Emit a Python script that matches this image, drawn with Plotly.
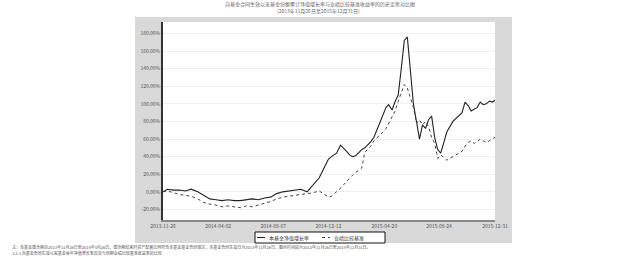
import plotly.graph_objects as go

dates = [
    "2013-11-26", "2013-12-06", "2013-12-20", "2014-01-03", "2014-01-17", "2014-01-30",
    "2014-02-14", "2014-02-28", "2014-03-14", "2014-03-28", "2014-04-11", "2014-04-25",
    "2014-05-09", "2014-05-23", "2014-06-06", "2014-06-20", "2014-07-04", "2014-07-18",
    "2014-08-01", "2014-08-15", "2014-08-29", "2014-09-12", "2014-09-26", "2014-10-10",
    "2014-10-24", "2014-11-07", "2014-11-21", "2014-12-05", "2014-12-12", "2014-12-19",
    "2014-12-31", "2015-01-09", "2015-01-16", "2015-01-23", "2015-01-30", "2015-02-06",
    "2015-02-13", "2015-02-27", "2015-03-06", "2015-03-13", "2015-03-20", "2015-03-27",
    "2015-04-03", "2015-04-10", "2015-04-17", "2015-04-24", "2015-04-30", "2015-05-08",
    "2015-05-15", "2015-05-22", "2015-05-29", "2015-06-05", "2015-06-12", "2015-06-19",
    "2015-06-26", "2015-07-03", "2015-07-10", "2015-07-17", "2015-07-24", "2015-07-31",
    "2015-08-07", "2015-08-14", "2015-08-21", "2015-08-28", "2015-09-11", "2015-09-25",
    "2015-10-16", "2015-10-23", "2015-10-30", "2015-11-06", "2015-11-13", "2015-11-20",
    "2015-11-27", "2015-12-04", "2015-12-11", "2015-12-18", "2015-12-25", "2015-12-31",
]

fund = [
    0, 3, 2, 2, 1, 3, 0, -4, -8, -9, -10, -9,
    -10, -10, -9, -8, -9, -7, -6, -2, 0, 1, 2, 3,
    0, 8, 16, 30, 37, 40, 44, 53, 50, 46, 42, 40,
    41, 48, 50, 53, 57, 62, 70, 80, 88, 96, 99, 93,
    103, 110, 140, 172, 176, 140, 100, 80, 60, 76, 72, 82,
    86, 62, 48, 44, 68, 80, 90, 102, 98, 92, 94, 96,
    102, 99, 100, 103, 102, 104,
]

bench = [
    0, 1, -1, -3, -4, -5, -8, -12, -14, -15, -17, -16,
    -17, -18, -16, -17, -15, -13, -11, -8, -6, -5, -4, -3,
    -2, -1, 1, -4, -6, -5, 0, 4, 8, 12, 16, 19,
    22, 27, 45, 48, 52, 58, 61, 65, 68, 72, 78, 86,
    92, 103, 112, 122, 118, 108, 96, 78, 82, 76, 80, 74,
    62, 55, 38, 42, 36, 40, 46, 52, 56, 58, 55, 57,
    60, 58, 56, 58, 60, 62,
]

series_names = ["本基金净值增长率", "业绩比较基准"]

y_ticks = [-20, 0, 20, 40, 60, 80, 100, 120, 140, 160, 180]
y_tick_text = ["-20.00%", "0.00%", "20.00%", "40.00%", "60.00%", "80.00%",
               "100.00%", "120.00%", "140.00%", "160.00%", "180.00%"]

x_ticks = ["2013-11-26", "2014-04-02", "2014-08-07", "2014-12-12",
           "2015-04-20", "2015-08-24", "2015-12-31"]

title_line1 = "自基金合同生效以来基金份额累计净值增长率与业绩比较基准收益率的历史走势对比图"
title_line2 = "(2013年11月26日至2015年12月31日)"
note_line1 = ("注：本基金建仓期自2013年11月26日至2014年5月26日，建仓期结束时资产配置比例符合本基金基金合同规定。"
              "本基金合同生效日为2013年11月26日，图示时间段为2013年11月26日至2015年12月31日。")
note_line2 = "3.2.3 自基金合同生效以来基金每年净值增长率及其与同期业绩比较基准收益率的比较"

FONT = "Noto Sans CJK SC"
line_styles = [dict(color="#222222", width=1.1), dict(color="#444444", width=1, dash="dot")]

fig = go.Figure()
fig.add_trace(go.Scatter(x=dates, y=fund, mode="lines", name=series_names[0],
                         line=line_styles[0], showlegend=False))
fig.add_trace(go.Scatter(x=dates, y=bench, mode="lines", name=series_names[1],
                         line=line_styles[1], showlegend=False))

W, H = 634, 257
L, R, T, B = 163, 495, 22, 220
pw, ph = R - L, B - T

def px(x):
    return (x - L) / pw

def py(y):
    return (B - y) / ph

# gray frame and white plot area
fig.add_shape(type="rect", xref="paper", yref="paper",
              x0=px(135), x1=px(512), y0=py(243), y1=py(17),
              fillcolor="#d9d9d9", line=dict(width=0), layer="below")
fig.add_shape(type="rect", xref="paper", yref="paper",
              x0=0, x1=1, y0=0, y1=1,
              fillcolor="white", line=dict(width=0), layer="below")

# legend box
fig.add_shape(type="rect", xref="paper", yref="paper",
              x0=px(255), x1=px(385), y0=py(243), y1=py(232),
              fillcolor="white", line=dict(color="#111111", width=1))
legend_items = [(257, 265, 267), (322, 330, 332)]
for (lx0, lx1, tx), name, st in zip(legend_items, series_names, line_styles):
    fig.add_shape(type="line", xref="paper", yref="paper",
                  x0=px(lx0), x1=px(lx1), y0=py(237.5), y1=py(237.5),
                  line=st)
    fig.add_annotation(text=name, xref="paper", yref="paper", x=px(tx), y=py(237.5),
                       showarrow=False, font=dict(size=5, color="#333333"),
                       xanchor="left", yanchor="middle")

fig.update_layout(
    width=W, height=H,
    margin=dict(l=L, r=W - R, t=T, b=H - B, autoexpand=False),
    paper_bgcolor="white", plot_bgcolor="white",
    font=dict(family=FONT, size=5, color="#444444"),
    showlegend=False,
    xaxis=dict(type="date", range=["2013-11-26", "2015-12-31"], tickvals=x_ticks,
               ticktext=x_ticks, tickfont=dict(size=5, color="#555555"),
               showgrid=False, showline=True, linecolor="#888888", linewidth=2,
               ticks="", zeroline=False),
    yaxis=dict(range=[-32, 193], tickvals=y_ticks, ticktext=y_tick_text,
               tickfont=dict(size=5, color="#555555"),
               showgrid=True, gridcolor="#f0f0f0", gridwidth=1,
               showline=True, linecolor="#333333", linewidth=1.5,
               ticks="", zeroline=False),
)

fig.add_annotation(text=title_line1, xref="paper", yref="paper", x=px(320), y=py(4.5),
                   showarrow=False, font=dict(size=5, color="#666666"), xanchor="center", yanchor="middle")
fig.add_annotation(text=title_line2, xref="paper", yref="paper", x=px(318), y=py(11),
                   showarrow=False, font=dict(size=5, color="#666666"), xanchor="center", yanchor="middle")
fig.add_annotation(text=note_line1, xref="paper", yref="paper", x=px(10), y=py(246.5),
                   showarrow=False, font=dict(size=4, color="#555555"), xanchor="left", yanchor="middle")
fig.add_annotation(text=note_line2, xref="paper", yref="paper", x=px(10), y=py(252.5),
                   showarrow=False, font=dict(size=4, color="#555555"), xanchor="left", yanchor="middle")

fig.write_html("out.html", config={"displayModeBar": False},
               post_script="document.body.style.margin='0';")
